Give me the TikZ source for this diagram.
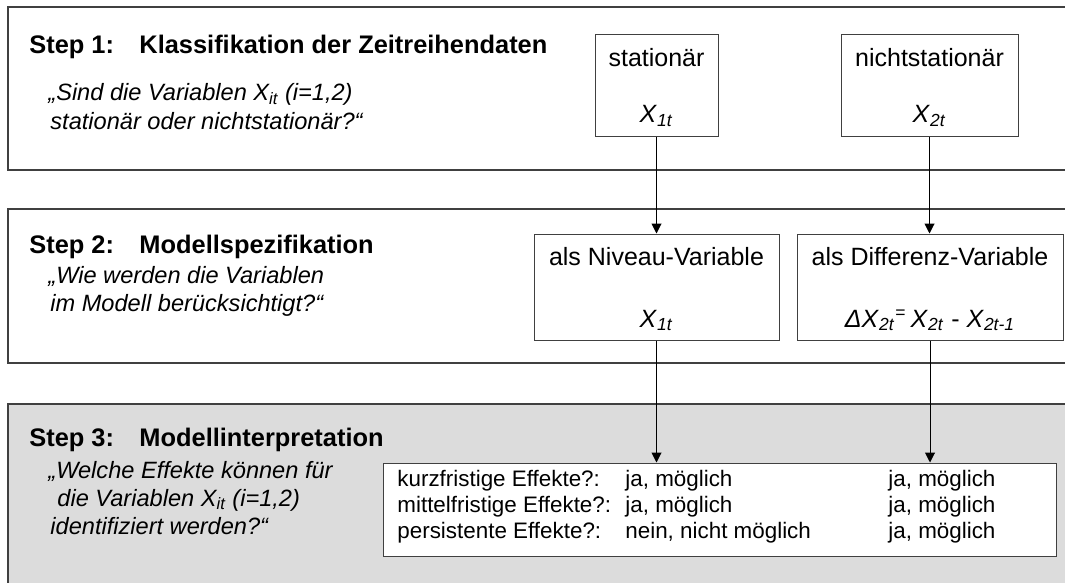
\documentclass[tikz,border=0pt]{standalone}
\usepackage{fontspec}
\setmainfont{Liberation Sans}
\usetikzlibrary{arrows.meta,positioning}

\definecolor{panelline}{HTML}{404040}
\definecolor{panelgray}{HTML}{DCDCDC}

\tikzset{
  panel/.style={draw=panelline, line width=0.8pt},
  steptitle/.style={anchor=base west, inner sep=0pt, font=\fontsize{12.7}{15}\selectfont\bfseries},
  question/.style={anchor=base west, inner sep=0pt, font=\fontsize{11.8}{14}\selectfont\itshape},
  varbox/.style={draw=panelline, line width=0.5pt, inner sep=0pt},
  boxtext/.style={anchor=base, inner sep=0pt, font=\fontsize{12.5}{15}\selectfont},
  effect/.style={anchor=base west, inner sep=0pt, font=\fontsize{11.2}{13}\selectfont},
  flow/.style={-{Triangle[length=5pt,width=5pt]}, line width=0.5pt},
}

\newcommand{\var}[1]{\textit{X}\textsubscript{\textit{#1}}}

\begin{document}
\begin{tikzpicture}[x=0.5pt, y=-0.5pt]
    \useasboundingbox (0,0) rectangle (1065,583);

    % Panels
    \draw[panel, fill=white] (8,7) rectangle (1075,170);
    \draw[panel, fill=white] (8,209) rectangle (1075,363);
    \draw[panel, fill=panelgray] (8,404) rectangle (1075,593);

    % Step 1
    \node[steptitle] (title1) at (29,54) {Step 1:\hspace{1em}Klassifikation der Zeitreihendaten};
    \node[question] (quest1a) at (48,101) {„Sind die Variablen \var{it} (i=1,2)};
    \node[question] (quest1b) at (50,129) {stationär oder nichtstationär?“};

    \node[varbox, minimum width=61.5pt, minimum height=51pt] (stat) at (656.5,86) {};
    \node[boxtext] (stat-l) at (656.5,67) {stationär};
    \node[boxtext] (stat-x) at (656.5,123) {\var{1t}};

    \node[varbox, minimum width=88.5pt, minimum height=51pt] (nstat) at (929.5,86) {};
    \node[boxtext] (nstat-l) at (929.5,67) {nichtstationär};
    \node[boxtext] (nstat-x) at (929.5,123) {\var{2t}};

    % Step 2
    \node[steptitle] (title2) at (29,253) {Step 2:\hspace{1em}Modellspezifikation};
    \node[question] (quest2a) at (48,283) {„Wie werden die Variablen};
    \node[question] (quest2b) at (50,311) {im Modell berücksichtigt?“};

    \node[varbox, minimum width=122.5pt, minimum height=53pt] (niv) at (656.5,287) {};
    \node[boxtext] (niv-l) at (656.5,265) {als Niveau-Variable};
    \node[boxtext] (niv-x) at (656.5,327) {\var{1t}};

    \node[varbox, minimum width=133pt, minimum height=53pt] (diff) at (930,287) {};
    \node[boxtext] (diff-l) at (930,265) {als Differenz-Variable};
    \node[boxtext] (diff-x) at (930,327)
        {\textit{Δ}\var{2t}\textsuperscript{=}\,\var{2t} - \var{2t-1}};

    % Step 3
    \node[steptitle] (title3) at (29,446) {Step 3:\hspace{1em}Modellinterpretation};
    \node[question] (quest3a) at (48,478) {„Welche Effekte können für};
    \node[question] (quest3b) at (57,506) {die Variablen \var{it} (i=1,2)};
    \node[question] (quest3c) at (50,534) {identifiziert werden?“};

    \node[varbox, fill=white, minimum width=336.5pt, minimum height=46.5pt] (tab) at (719.5,509.5) {};
    \foreach \lab/\vniv/\vdiff [count=\i] in
        {kurzfristige Effekte?:/{ja, möglich}/{ja, möglich},
         mittelfristige Effekte?:/{ja, möglich}/{ja, möglich},
         persistente Effekte?:/{nein, nicht möglich}/{ja, möglich}} {
        \node[effect] (eff-\i) at (397,460+26*\i) {\lab};
        \node[effect] (eff-niv-\i) at (625,460+26*\i) {\vniv};
        \node[effect] (eff-diff-\i) at (888,460+26*\i) {\vdiff};
    }

    % Connectors
    \draw[flow] (stat.south) -- (niv.north);
    \draw[flow] (nstat.south) -- (nstat.south |- diff.north);
    \draw[flow] (niv.south) -- (niv.south |- tab.north);
    \draw[flow] (diff.south) -- (diff.south |- tab.north);
\end{tikzpicture}
\end{document}
